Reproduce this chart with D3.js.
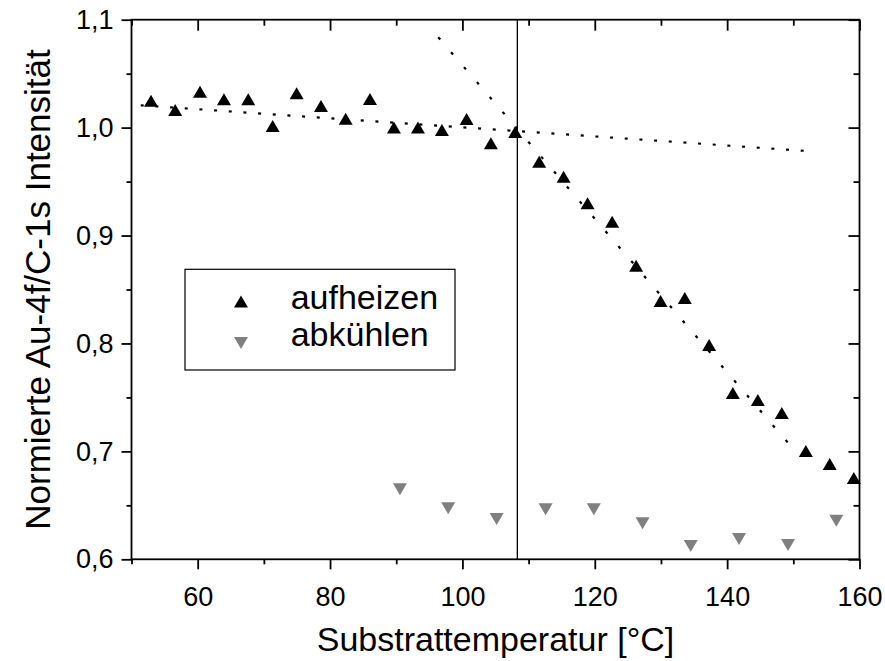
<!DOCTYPE html>
<html>
<head>
<meta charset="utf-8">
<script src="https://cdn.jsdelivr.net/npm/d3@7"></script>
<style>
  html, body { margin: 0; padding: 0; background: #fff; }
  svg { display: block; }
  text { font-family: "Liberation Sans", Arial, sans-serif; fill: #000; }
</style>
</head>
<body>
<svg id="chart" width="885" height="661"></svg>
<script>
// ---- data ----
const heatX = [52.95,56.6,60.35,63.97,67.64,71.33,74.95,78.63,82.36,86.03,89.65,93.28,96.9,100.63,104.3,107.98,111.6,115.29,118.91,122.63,126.25,129.94,133.6,137.28,140.86,144.64,148.26,151.89,155.5,159.14];
const heatY = [1.025,1.0163,1.0333,1.0262,1.0262,1.0015,1.0318,1.020,1.0083,1.0265,1.0,1.0,0.9978,1.008,0.9855,0.996,0.9684,0.9545,0.9299,0.9128,0.872,0.8393,0.8421,0.7986,0.754,0.7475,0.7356,0.7004,0.6883,0.6753];
const coolX = [90.56,97.85,105.17,112.57,119.86,127.22,134.5,141.8,149.2,156.5];
const coolY = [0.665,0.6473,0.6373,0.6463,0.6463,0.6334,0.6123,0.6188,0.6133,0.6358];
const fitFlatX = [51.4,152.4];
const fitFlatY = [1.0207,0.9782];
const fitSteepX = [96.35,150.3];
const fitSteepY = [1.0837,0.7001];
const transitionX = 108.3;
const xMajorTicks = [60,80,100,120,140,160];
const xMinorTicks = [50,70,90,110,130,150];
const yMajorTicks = [0.6,0.7,0.8,0.9,1.0,1.1];
const yMinorTicks = [0.65,0.75,0.85,0.95,1.05];
const seriesNames = ["aufheizen","abkühlen"];
const xTitle = "Substrattemperatur [°C]";
const yTitle = "Normierte Au-4f/C-1s Intensität";

// ---- layout ----
const L = 131.5, R = 859.5, T = 19.7, B = 559.3;
const svg = d3.select("#chart");
const x = d3.scaleLinear().domain([50,160]).range([L,R]);
const y = d3.scaleLinear().domain([0.6,1.1]).range([B,T]);
const fmt = d => d3.format(".1f")(d).replace(".", ",");

function styleAxis(g) {
  g.select(".domain").remove();
  g.selectAll("line").attr("stroke","#000").attr("stroke-width",1.8);
  g.selectAll("text").attr("font-size",27).attr("fill","#000").attr("font-family",'"Liberation Sans", Arial, sans-serif');
}

// bottom axis
svg.append("g").attr("transform",`translate(0,${B})`)
  .call(d3.axisBottom(x).tickValues(xMajorTicks).tickSize(10).tickPadding(18).tickFormat(d3.format("d")))
  .call(styleAxis);
svg.append("g").attr("transform",`translate(0,${B})`)
  .call(d3.axisBottom(x).tickValues(xMinorTicks).tickSize(5).tickFormat(""))
  .call(styleAxis);
// top axis (inward)
svg.append("g").attr("transform",`translate(0,${T})`)
  .call(d3.axisTop(x).tickValues(xMajorTicks).tickSize(-11).tickFormat(""))
  .call(styleAxis);
svg.append("g").attr("transform",`translate(0,${T})`)
  .call(d3.axisTop(x).tickValues(xMinorTicks).tickSize(-6).tickFormat(""))
  .call(styleAxis);
// left axis
svg.append("g").attr("transform",`translate(${L},0)`)
  .call(d3.axisLeft(y).tickValues(yMajorTicks).tickSize(10).tickPadding(8).tickFormat(fmt))
  .call(styleAxis);
svg.append("g").attr("transform",`translate(${L},0)`)
  .call(d3.axisLeft(y).tickValues(yMinorTicks).tickSize(5).tickFormat(""))
  .call(styleAxis);
// right axis (inward)
svg.append("g").attr("transform",`translate(${R},0)`)
  .call(d3.axisRight(y).tickValues(yMajorTicks).tickSize(-11).tickFormat(""))
  .call(styleAxis);
svg.append("g").attr("transform",`translate(${R},0)`)
  .call(d3.axisRight(y).tickValues(yMinorTicks).tickSize(-6).tickFormat(""))
  .call(styleAxis);

// frame
svg.append("rect").attr("x",L).attr("y",T).attr("width",R-L).attr("height",B-T)
  .attr("fill","none").attr("stroke","#000").attr("stroke-width",1.8);

// vertical transition line
svg.append("line")
  .attr("x1",x(transitionX)).attr("x2",x(transitionX))
  .attr("y1",y(0.6)).attr("y2",y(1.1))
  .attr("stroke","#000").attr("stroke-width",1.3);

// fit lines
const line = d3.line().x(d => x(d[0])).y(d => y(d[1]));
svg.append("path").datum(d3.zip(fitFlatX, fitFlatY)).attr("d",line)
  .attr("fill","none").attr("stroke","#000").attr("stroke-width",2.2)
  .attr("stroke-dasharray","3 11.7");
svg.append("path").datum(d3.zip(fitSteepX, fitSteepY)).attr("d",line)
  .attr("fill","none").attr("stroke","#000").attr("stroke-width",2.2)
  .attr("stroke-dasharray","3 16.7");

// markers
const upTri = "M0,-6L7,6L-7,6Z";
const downTri = "M0,6L7,-6L-7,-6Z";
svg.append("g").selectAll("path").data(d3.zip(heatX, heatY)).join("path")
  .attr("d",upTri).attr("transform",d => `translate(${x(d[0])},${y(d[1])})`)
  .attr("fill","#000");
svg.append("g").selectAll("path").data(d3.zip(coolX, coolY)).join("path")
  .attr("d",downTri).attr("transform",d => `translate(${x(d[0])},${y(d[1])})`)
  .attr("fill","#808080");

// axis titles
svg.append("text").attr("x",(L+R)/2).attr("y",651).attr("text-anchor","middle")
  .attr("font-size",34).text(xTitle);
svg.append("text").attr("transform",`translate(50,${(T+B)/2}) rotate(-90)`)
  .attr("text-anchor","middle").attr("font-size",35).text(yTitle);

// legend
const lg = svg.append("g");
lg.append("rect").attr("x",185).attr("y",269.3).attr("width",270).attr("height",100.7)
  .attr("fill","#fff").attr("stroke","#000").attr("stroke-width",1.2);
lg.append("path").attr("d",upTri).attr("transform","translate(241,301.5)").attr("fill","#000");
lg.append("path").attr("d",downTri).attr("transform","translate(241,343)").attr("fill","#808080");
lg.append("text").attr("x",290.7).attr("y",309).attr("font-size",34).text(seriesNames[0]);
lg.append("text").attr("x",290.7).attr("y",346).attr("font-size",34).text(seriesNames[1]);
</script>
</body>
</html>
